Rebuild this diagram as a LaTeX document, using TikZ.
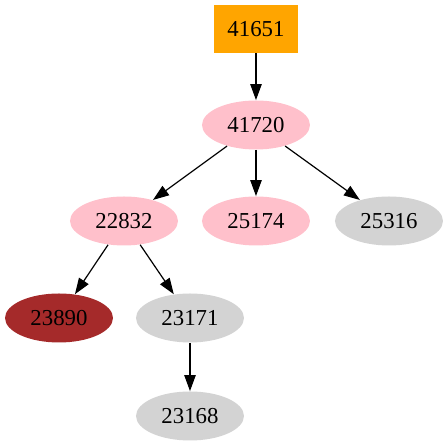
\documentclass[tikz,border=0pt]{standalone}
\usepackage{fontspec}
\setmainfont{Liberation Serif}
\usetikzlibrary{shapes.geometric,arrows.meta}
\definecolor{gvorange}{RGB}{255,165,0}
\definecolor{gvpink}{RGB}{255,192,203}
\definecolor{gvgray}{RGB}{211,211,211}
\definecolor{gvbrown}{RGB}{165,42,42}
\tikzset{
  gvnode/.style={ellipse, minimum width=54pt, minimum height=24.5pt, inner sep=0pt, font=\fontsize{11.4}{13}\selectfont},
  pinknode/.style={gvnode, fill=gvpink},
  graynode/.style={gvnode, fill=gvgray},
  brownnode/.style={gvnode, fill=gvbrown},
  boxnode/.style={rectangle, minimum width=42pt, minimum height=24pt, inner sep=0pt, fill=gvorange, font=\fontsize{11.4}{13}\selectfont},
  edge/.style={draw=black, line width=0.6pt, -{Triangle[length=8pt,width=5.7pt]}}
}
\begin{document}
\begin{tikzpicture}[x=0.5pt,y=-0.5pt]
\useasboundingbox (0,0) rectangle (447,443);
\node[boxnode] (n41651) at (256,29) {41651};
\node[pinknode] (n41720) at (256,125) {41720};
\node[pinknode] (n22832) at (124,221) {22832};
\node[pinknode] (n25174) at (256,221) {25174};
\node[graynode] (n25316) at (389,221) {25316};
\node[brownnode] (n23890) at (59,318) {23890};
\node[graynode] (n23171) at (190,318) {23171};
\node[graynode] (n23168) at (190,416) {23168};
\draw[edge] (n41651) -- (n41720);
\draw[edge] (n41720) -- (n22832);
\draw[edge] (n41720) -- (n25174);
\draw[edge] (n41720) -- (n25316);
\draw[edge] (n22832) -- (n23890);
\draw[edge] (n22832) -- (n23171);
\draw[edge] (n23171) -- (n23168);
\end{tikzpicture}
\end{document}
